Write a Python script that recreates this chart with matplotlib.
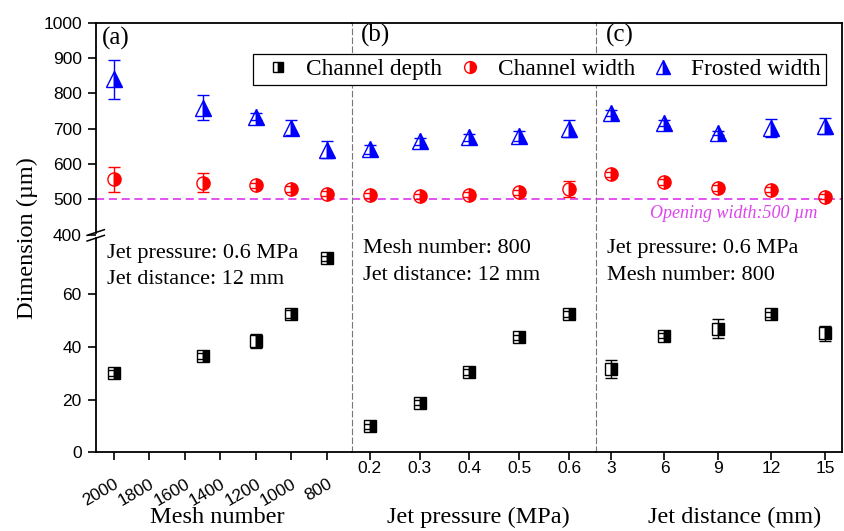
import numpy as np
import matplotlib.pyplot as plt
from matplotlib.lines import Line2D

plt.rcParams['font.family'] = ['Liberation Serif', 'DejaVu Serif']

# (a) mesh number
mesh = [2000, 1500, 1200, 1000, 800]
mesh_depth = [30.2, 36.6, 42.4, 52.5, 73.7]
mesh_depth_err = [1.2, 1.2, 2.6, 1.5, 1.0]
mesh_width = [556, 547, 539, 528, 516]
mesh_width_err = [36, 28, 8, 8, 7]
mesh_frosted = [840, 759, 734, 703, 640]
mesh_frosted_err = [55, 36, 10, 22, 24]

# (b) jet pressure
pressure = [0.2, 0.3, 0.4, 0.5, 0.6]
pressure_depth = [9.9, 18.8, 30.5, 43.7, 52.5]
pressure_depth_err = [1.0, 1.0, 1.0, 1.0, 1.2]
pressure_width = [511, 508, 513, 520, 528]
pressure_width_err = [7, 7, 7, 7, 23]
pressure_frosted = [641, 664, 675, 679, 700]
pressure_frosted_err = [12, 10, 10, 15, 23]

# (c) jet distance
distance = [3, 6, 9, 12, 15]
distance_depth = [31.6, 44.4, 46.9, 52.5, 45.2]
distance_depth_err = [3.4, 1.0, 3.6, 1.0, 2.8]
distance_width = [570, 549, 532, 527, 507]
distance_width_err = [8, 8, 8, 8, 7]
distance_frosted = [744, 715, 688, 702, 707]
distance_frosted_err = [8, 8, 6, 25, 22]

opening_width = 500

mesh_ticks = [2000, 1800, 1600, 1400, 1200, 1000, 800]
pressure_ticks = [0.2, 0.3, 0.4, 0.5, 0.6]
distance_ticks = [3, 6, 9, 12, 15]
y_ticks = [0, 20, 40, 60, 400, 500, 600, 700, 800, 900, 1000]

# broken y axis: 0-80 and 400-1000 squeezed into one scale
Y_REAL = [-1000, 0, 80, 400, 1000, 3000]
Y_AXIS = [-1000, 0, 80, 82.8, 163.32, 431.72]


def to_axis(y):
    return np.interp(y, Y_REAL, Y_AXIS)


def to_data(v):
    return np.interp(v, Y_AXIS, Y_REAL)


MAGENTA = '#dd44ee'
SANS = 'Liberation Sans'


def draw_series(ax, x, depth, depth_err, width, width_err, frosted, frosted_err):
    common = dict(ls='none', fillstyle='right', markeredgewidth=1.0,
                  elinewidth=1.0, capthick=1.0, capsize=4)
    ax.errorbar(x, depth, yerr=depth_err, marker='s', ms=9, color='black', **common)
    ax.errorbar(x, width, yerr=width_err, marker='o', ms=9.5, color='red', **common)
    ax.errorbar(x, frosted, yerr=frosted_err, marker='^', ms=11, color='blue', **common)
    ax.axhline(opening_width, color=MAGENTA, lw=1.3, ls=(0, (4.5, 2.6)), zorder=1)


def style_axes(ax, xlim, ticks):
    ax.set_yscale('function', functions=(to_axis, to_data))
    ax.set_ylim(0, 1000)
    ax.set_xlim(*xlim)
    ax.set_xticks(ticks)
    ax.tick_params(direction='out', length=5.5, width=1.2,
                   labelsize=12.5, labelfontfamily=SANS, top=False, right=False)
    for side in ['top', 'bottom', 'left', 'right']:
        ax.spines[side].set_linewidth(1.3)


fig = plt.figure(figsize=(8.45, 5.31), dpi=100)
bottom = 1 - 452.3 / 531
height = (452.3 - 22.7) / 531
ax_a = fig.add_axes([95.7 / 845, bottom, (352.3 - 95.7) / 845, height])
ax_b = fig.add_axes([352.3 / 845, bottom, (596 - 352.3) / 845, height])
ax_c = fig.add_axes([596 / 845, bottom, (841.7 - 596) / 845, height])

draw_series(ax_a, mesh, mesh_depth, mesh_depth_err, mesh_width, mesh_width_err,
            mesh_frosted, mesh_frosted_err)
draw_series(ax_b, pressure, pressure_depth, pressure_depth_err, pressure_width,
            pressure_width_err, pressure_frosted, pressure_frosted_err)
draw_series(ax_c, distance, distance_depth, distance_depth_err, distance_width,
            distance_width_err, distance_frosted, distance_frosted_err)

style_axes(ax_a, (2101, 658), mesh_ticks)
style_axes(ax_b, (0.1651, 0.6542), pressure_ticks)
style_axes(ax_c, (2.159, 15.94), distance_ticks)

ax_a.set_yticks(y_ticks)
ax_a.set_yticklabels([str(t) for t in y_ticks])
ax_a.tick_params(axis='y', pad=4.5)
ax_a.tick_params(axis='x', pad=12)
plt.setp(ax_a.get_xticklabels(), rotation=30, ha='right', rotation_mode='anchor')
ax_b.tick_params(axis='x', pad=1)
ax_c.tick_params(axis='x', pad=1)
for ax in [ax_b, ax_c]:
    ax.tick_params(axis='y', left=False, labelleft=False)
    ax.spines['left'].set_linestyle((0, (5, 3)))
    ax.spines['left'].set_linewidth(0.8)
    ax.spines['left'].set_color('#777777')
ax_a.spines['right'].set_visible(False)
ax_b.spines['right'].set_visible(False)

# left spine with break marks
ax_a.spines['left'].set_visible(False)
brk_lo, brk_hi = 0.4984, 0.5116
dx, dy = 0.0337, 0.0066
ax_a.plot([0, 0], [0, brk_lo], transform=ax_a.transAxes, color='black', lw=1.3, clip_on=False)
ax_a.plot([0, 0], [brk_hi, 1], transform=ax_a.transAxes, color='black', lw=1.3, clip_on=False)
for yb in [brk_lo, brk_hi]:
    ax_a.plot([-dx, dx], [yb - dy, yb + dy], transform=ax_a.transAxes,
              color='black', lw=1.1, clip_on=False)

# labels
ax_a.set_ylabel('Dimension (µm)', fontsize=17.5, va='center')
ax_a.yaxis.set_label_coords(-0.265, 0.4988)
for ax, label, xc in [(ax_a, 'Mesh number', 0.4727),
                      (ax_b, 'Jet pressure (MPa)', 0.517),
                      (ax_c, 'Jet distance (mm)', 0.5645)]:
    ax.set_xlabel(label, fontsize=17.5, va='center')
    ax.xaxis.set_label_coords(xc, -0.151)

ax_a.text(0.0234, 0.9644, '(a)', transform=ax_a.transAxes, fontsize=18, va='center')
ax_b.text(0.0345, 0.9714, '(b)', transform=ax_b.transAxes, fontsize=18, va='center')
ax_c.text(0.0407, 0.9714, '(c)', transform=ax_c.transAxes, fontsize=18, va='center')

notes = [(ax_a, 0.0429, 0.4639, 0.4027, 'Jet pressure: 0.6 MPa', 'Jet distance: 12 mm'),
         (ax_b, 0.0427, 0.4749, 0.412, 'Mesh number: 800', 'Jet distance: 12 mm'),
         (ax_c, 0.046, 0.4749, 0.412, 'Jet pressure: 0.6 MPa', 'Mesh number: 800')]
for ax, xt, y1, y2, line1, line2 in notes:
    ax.text(xt, y1, line1, transform=ax.transAxes, fontsize=16, va='center')
    ax.text(xt, y2, line2, transform=ax.transAxes, fontsize=16, va='center')

ax_c.text(0.9027, 0.5563, 'Opening width:500 µm', transform=ax_c.transAxes,
          fontsize=13, style='italic', color=MAGENTA, ha='right', va='center')

handles = [
    Line2D([], [], ls='none', marker='s', ms=7, color='black', fillstyle='right'),
    Line2D([], [], ls='none', marker='o', ms=8.5, color='red', fillstyle='right'),
    Line2D([], [], ls='none', marker='^', ms=10, color='blue', fillstyle='right'),
]
leg = fig.legend(handles, ['Channel depth', 'Channel width', 'Frosted width'],
                 loc='upper left', bbox_to_anchor=(252.8 / 845, 1 - 53.5 / 531),
                 ncol=3, fontsize=16.8, frameon=True, fancybox=False, framealpha=1,
                 edgecolor='black', borderpad=0.22, handlelength=1.74,
                 handletextpad=0.3, columnspacing=0.36, borderaxespad=0)
leg.get_frame().set_linewidth(0.9)

fig.savefig('out.png', dpi=100)
